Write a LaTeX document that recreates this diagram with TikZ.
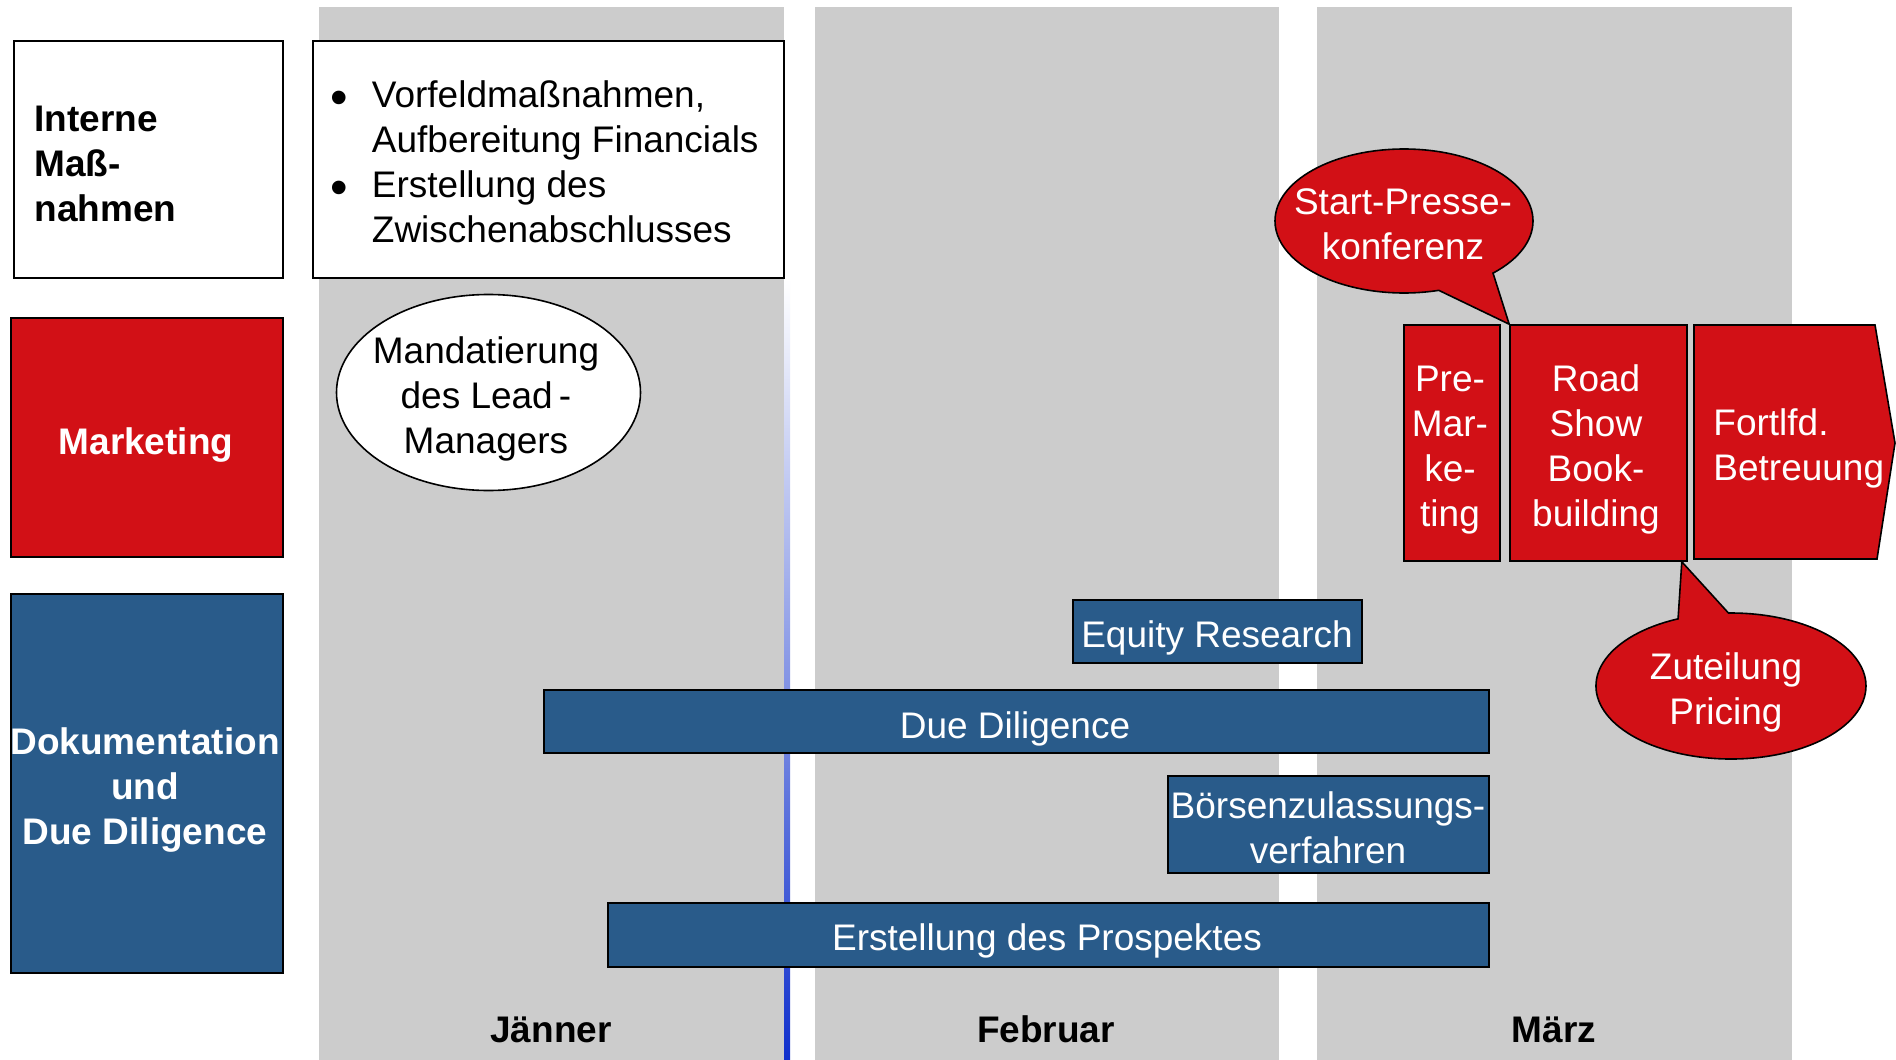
\documentclass[tikz,border=0pt]{standalone}
\usepackage{fontspec}
\setmainfont{Liberation Sans}
\usetikzlibrary{shapes.geometric,shapes.callouts,fit}
\definecolor{ipored}{RGB}{210,16,22}
\definecolor{ipoblue}{RGB}{41,91,138}
\definecolor{colgray}{RGB}{204,204,204}
\definecolor{lineblue}{RGB}{16,48,204}
\newcommand{\ml}[2][c]{\begin{tabular}{@{}#1@{}}#2\end{tabular}}
\newcommand{\bigbul}{{\fontsize{25}{22.5}\selectfont\raisebox{-3.5pt}{•}}}
\begin{document}
\begin{tikzpicture}[x=0.5pt,y=-0.5pt,
  txt/.style={font=\fontsize{18.5}{22.5}\selectfont, inner sep=0pt},
  btxt/.style={font=\fontsize{18.5}{22.5}\selectfont\bfseries, inner sep=0pt},
  wtxt/.style={txt, text=white},
  wbtxt/.style={btxt, text=white},
  whitebox/.style={fill=white, draw=black, line width=0.8pt, inner sep=0pt},
  redbox/.style={fill=ipored, draw=black, line width=0.8pt, inner sep=0pt},
  bluebox/.style={fill=ipoblue, draw=black, line width=0.8pt, inner sep=0pt},
  redcallout/.style={ellipse callout, fill=ipored, draw=black, line width=0.8pt, inner sep=0pt},
  month/.style={btxt}
]
\path[use as bounding box, fill=white] (0,0) rectangle (1896,1060);

% month columns
\fill[colgray] (319,7) rectangle (784,1060);
\fill[colgray] (815,7) rectangle (1279,1060);
\fill[colgray] (1317,7) rectangle (1792,1060);

% vertical blue line
\shade[top color=white, bottom color=lineblue] (784,279) rectangle (790,1060);

% row headers
\node[whitebox, fit={(14,41) (283,278)}] (intbox) {};
\node[redbox, fit={(11,318) (283,557)}] (mktbox) {};
\node[bluebox, fit={(11,594) (283,973)}] (dokbox) {};

\node[btxt, anchor=west] (inttxt) at (34,167) {\ml[l]{Interne\\Maß-\\nahmen}};
\node[wbtxt] (mkttxt) at (146,445) {\ml{Marketing}};
\node[wbtxt] (doktxt) at (145,790) {\ml{Dokumentation\\und\\Due Diligence}};

% internal measures
\node[whitebox, fit={(313,41) (784,278)}] (bulbox) {};
\node[txt, anchor=west] (bultxt) at (330,165.5) {\begin{tabular}{@{}l@{\hspace{12pt}}l@{}}\bigbul&Vorfeldmaßnahmen,\\&Aufbereitung Financials\\\bigbul&Erstellung des\\&Zwischenabschlusses\end{tabular}};

% marketing
\node[ellipse, fill=white, draw=black, line width=0.8pt, minimum width=152pt, minimum height=98pt, inner sep=0pt] (mand) at (488.5,392.5) {};
\node[txt] (mandtxt) at (486,399) {\ml{Mandatierung\\des Lead\,-\\Managers}};

\node[redbox, fit={(1404,325) (1500,561)}] (pre) {};
\node[redbox, fit={(1510,325) (1687,561)}] (road) {};
\coordinate (fa) at (1694,325);
\coordinate (fb) at (1875,325);
\coordinate (fc) at (1895,443);
\coordinate (fd) at (1877,559);
\coordinate (fe) at (1694,559);
\filldraw[fill=ipored, draw=black, line width=0.8pt] (fa) -- (fb) -- (fc) -- (fd) -- (fe) -- cycle;

\node[wtxt] (pretxt) at (1450,450) {\ml{Pre-\\Mar-\\ke-\\ting}};
\node[wtxt] (roadtxt) at (1596,450) {\ml{Road\\Show\\Book-\\building}};
\node[wtxt, anchor=west] (forttxt) at (1713,449) {\ml[l]{Fortlfd.\\Betreuung}};

\node[redcallout, minimum width=129pt, minimum height=72pt, callout pointer arc=28, callout absolute pointer={(road.north west)}] (start) at (1404,221) {};
\node[wtxt] (starttxt) at (1403,227.5) {\ml{Start-Presse-\\konferenz}};

\node[redcallout, minimum width=135pt, minimum height=73pt, callout pointer arc=22, callout absolute pointer={([xshift=-3pt]road.south east)}] (zut) at (1731,686) {};
\node[wtxt] (zuttxt) at (1726,692.5) {\ml{Zuteilung\\Pricing}};

% documentation bars
\node[bluebox, fit={(1073,600) (1362,663)}] (equity) {};
\node[bluebox, fit={(544,690) (1489,753)}] (due) {};
\node[bluebox, fit={(1168,776) (1489,873)}] (boerse) {};
\node[bluebox, fit={(608,903) (1489,967)}] (prosp) {};

\node[wtxt] (equitytxt) at (1217,638) {\ml{Equity Research}};
\node[wtxt] (duetxt) at (1015,729.5) {\ml{Due Diligence}};
\node[wtxt] (boersetxt) at (1328,831.5) {\ml{Börsenzulassungs-\\verfahren}};
\node[wtxt] (prosptxt) at (1047,941) {\ml{Erstellung des Prospektes}};

% months
\node[month] (jan) at (551,1033) {\ml{Jänner}};
\node[month] (feb) at (1046,1033) {\ml{Februar}};
\node[month] (mar) at (1554,1033) {\ml{März}};
\end{tikzpicture}
\end{document}
